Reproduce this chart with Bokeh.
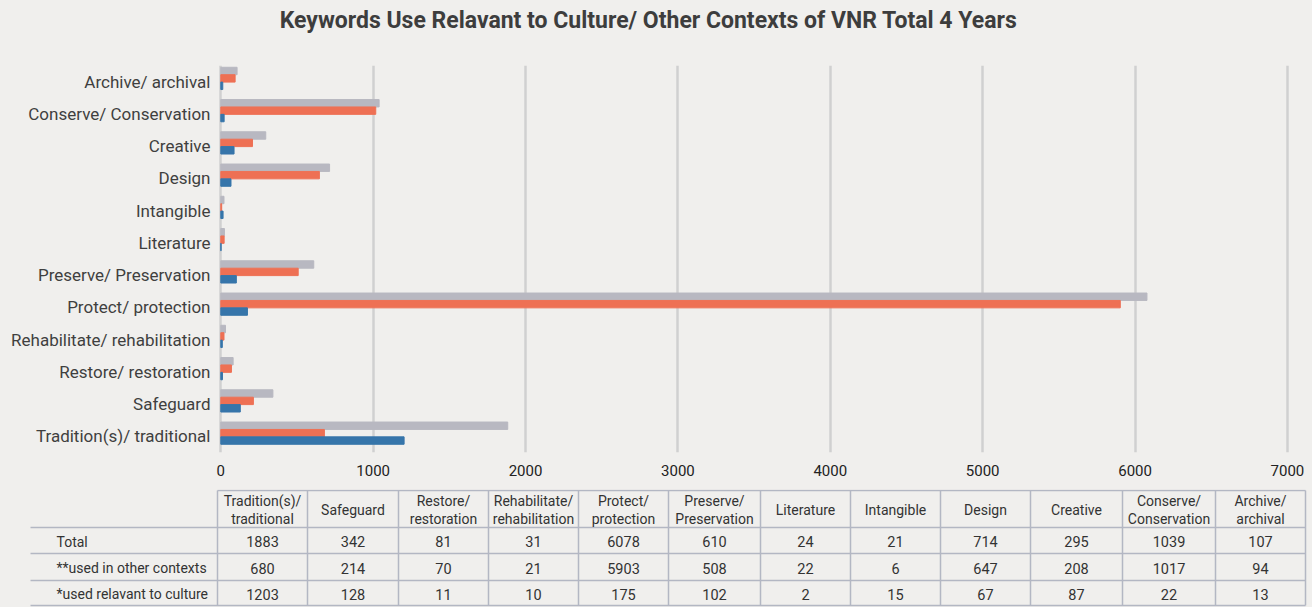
from bokeh.plotting import figure
from bokeh.models import ColumnDataSource, FactorRange, Range1d, SingleIntervalTicker
from bokeh.transform import dodge
from bokeh.embed import file_html
from bokeh.resources import INLINE

# ---------------- data ----------------
title_text = "Keywords Use Relavant to Culture/ Other Contexts of VNR Total 4 Years"
keywords = ["Tradition(s)/ traditional", "Safeguard", "Restore/ restoration",
            "Rehabilitate/ rehabilitation", "Protect/ protection", "Preserve/ Preservation",
            "Literature", "Intangible", "Design", "Creative", "Conserve/ Conservation",
            "Archive/ archival"]
table_headers = ["Tradition(s)/\ntraditional", "Safeguard", "Restore/\nrestoration",
                 "Rehabilitate/\nrehabilitation", "Protect/\nprotection", "Preserve/\nPreservation",
                 "Literature", "Intangible", "Design", "Creative", "Conserve/\nConservation",
                 "Archive/\narchival"]
total = [1883, 342, 81, 31, 6078, 610, 24, 21, 714, 295, 1039, 107]
other_contexts = [680, 214, 70, 21, 5903, 508, 22, 6, 647, 208, 1017, 94]
culture = [1203, 128, 11, 10, 175, 102, 2, 15, 67, 87, 22, 13]
row_labels = ["Total", "**used in other contexts", "*used relavant to culture"]

BG = "#f0efed"
FONT = "Roboto"
C_TOTAL = "#b8b8c1"
C_OTHER = "#ee7054"
C_CULT = "#3675aa"

W = 1312
H0 = 40          # title strip
H1 = 449         # bar chart
H2 = 607 - H0 - H1  # table

# ---------------- title ----------------
tt = figure(width=W, height=H0, x_range=Range1d(0, W), y_range=Range1d(H0, 0),
            output_backend="svg", toolbar_location=None,
            background_fill_color=BG, border_fill_color=BG, min_border=0)
tt.axis.visible = False
tt.grid.visible = False
tt.outline_line_color = None
tt.text(x=[648], y=[20], text=[title_text], text_align="center", text_baseline="middle",
        text_font={"value": FONT}, text_font_size="23px", text_font_style="bold",
        text_color="#3d3d3d")

# ---------------- bar chart ----------------
src = ColumnDataSource(dict(kw=keywords, total=total, other=other_contexts, cult=culture))
p = figure(width=W, height=H1, y_range=FactorRange(factors=keywords, range_padding=0),
           x_range=Range1d(-15, 7020), output_backend="svg", toolbar_location=None,
           background_fill_color=BG, border_fill_color=BG)
p.min_border_left = 218
p.min_border_right = 22
p.min_border_top = 25
p.min_border_bottom = 37
p.outline_line_color = None

h = 0.23
p.hbar(y=dodge("kw", 0.33, range=p.y_range), left=0, right="total", height=h,
       color=C_TOTAL, source=src)
p.hbar(y=dodge("kw", 0.10, range=p.y_range), left=0, right="other", height=h,
       color=C_OTHER, source=src)
p.hbar(y=dodge("kw", -0.13, range=p.y_range), left=0, right="cult", height=h,
       color=C_CULT, source=src)

p.xaxis.ticker = SingleIntervalTicker(interval=1000)
p.xgrid.ticker = SingleIntervalTicker(interval=1000)
p.xgrid.grid_line_color = "#d0d0d0"
p.xgrid.grid_line_width = 2.5
p.ygrid.grid_line_color = None
for ax in (p.xaxis, p.yaxis):
    ax.axis_line_color = None
    ax.major_tick_line_color = None
    ax.minor_tick_line_color = None
    ax.major_label_text_font = FONT
p.xaxis.major_label_text_font_size = "15px"
p.xaxis.major_label_text_color = "#222222"
p.xaxis.major_label_standoff = 6
p.yaxis.major_label_text_font_size = "17px"
p.yaxis.major_label_text_color = "#3f3f3f"
p.yaxis.major_label_standoff = 2

# ---------------- table ----------------
Y0 = H0 + H1
t = figure(width=W, height=H2, x_range=Range1d(0, W), y_range=Range1d(Y0 + H2, Y0),
           output_backend="svg", toolbar_location=None,
           background_fill_color=BG, border_fill_color=BG, min_border=0)
t.axis.visible = False
t.grid.visible = False
t.outline_line_color = None

col_widths = [90, 91, 90, 90, 90, 92, 90, 90, 90, 92, 93, 90]
x0 = 217
label_x0 = 30
edges = [x0]
for w in col_widths:
    edges.append(edges[-1] + w)
centers = [(edges[i] + edges[i + 1]) / 2 for i in range(len(col_widths))]
row_edges = [490, 527, 553, 580, 605]
line_col = "#b3b7c3"

t.segment(x0=[x0] + [label_x0] * 4, x1=[edges[-1]] * 5, y0=row_edges, y1=row_edges,
          line_color=line_col, line_width=1.5)
t.segment(x0=edges, x1=edges, y0=[row_edges[0]] * len(edges), y1=[row_edges[-1]] * len(edges),
          line_color=line_col, line_width=1.5)

t.text(x=centers, y=[(row_edges[0] + row_edges[1]) / 2 + 1] * len(centers), text=table_headers,
       text_align="center", text_baseline="middle", text_font_size="14px",
       text_color="#333333", text_font={"value": FONT}, text_line_height=1.15)

rows = [total, other_contexts, culture]
for r, vals in enumerate(rows):
    yc = (row_edges[r + 1] + row_edges[r + 2]) / 2 + 1
    t.text(x=centers, y=[yc] * len(centers), text=[str(v) for v in vals],
           text_align="center", text_baseline="middle", text_font_size="14.5px",
           text_color="#333333", text_font={"value": FONT})
    t.text(x=[label_x0 + 26], y=[yc], text=[row_labels[r]],
           text_align="left", text_baseline="middle", text_font_size="14px",
           text_color="#333333", text_font={"value": FONT})

html = file_html([tt, p, t], INLINE)
html = html.replace("<body>", '<body style="background-color:#f0efed;">')
open("out.html", "w").write(html)
